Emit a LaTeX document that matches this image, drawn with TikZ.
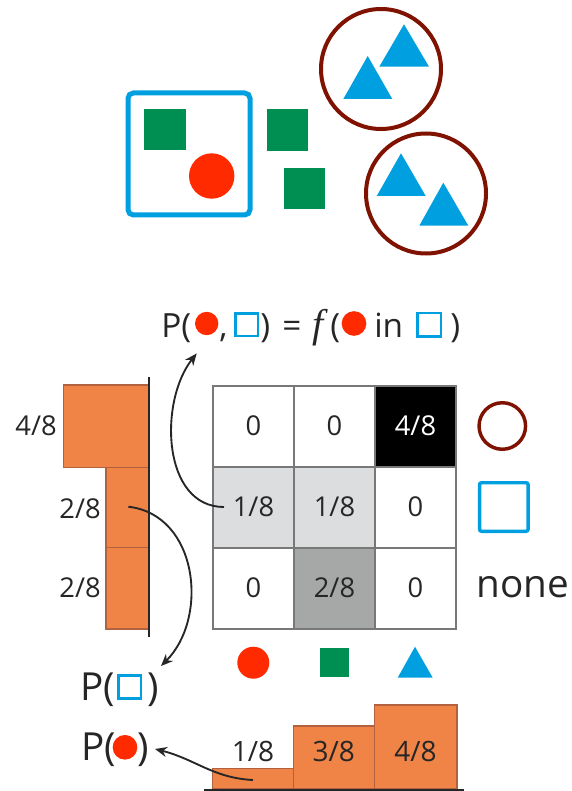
\documentclass[tikz,border=0pt]{standalone}
\usepackage{fontspec}
\setmainfont{Open Sans}
\newfontfamily\fserif{Liberation Serif}
\usetikzlibrary{arrows.meta,calc}
\definecolor{cblue}{HTML}{00A0E0}
\definecolor{cgreen}{HTML}{008F52}
\definecolor{cred}{HTML}{FF2A00}
\definecolor{cdred}{HTML}{7F1200}
\definecolor{corange}{HTML}{F08446}
\definecolor{cbrown}{HTML}{B3623F}
\definecolor{cgrid}{HTML}{787878}
\definecolor{clight}{HTML}{DCDDDF}
\definecolor{cmid}{HTML}{A6A8A7}
\definecolor{ctext}{HTML}{262626}
\begin{document}
\begin{tikzpicture}[x=0.75pt,y=-0.75pt,
 cell/.style={draw=cgrid, line width=1.5pt, minimum size=60.75pt, inner sep=0pt, font=\fontsize{20.5}{24}\selectfont, text=ctext},
 bar/.style={fill=corange, draw=cbrown, line width=1.2pt},
 lbl/.style={font=\fontsize{20.5}{24}\selectfont, text=ctext, inner sep=0pt},
 hl/.style={font=\fontsize{21}{25}\selectfont, text=ctext, inner sep=0pt},
 ft/.style={font=\fontsize{25}{30}\selectfont, text=ctext, inner sep=0pt, anchor=base west},
 ptxt/.style={font=\fontsize{29}{34}\selectfont, text=ctext, inner sep=0pt, anchor=base west},
 reddot/.style={circle, fill=cred, inner sep=0pt},
 bluesq/.style={draw=cblue, line width=1.9pt, inner sep=0pt},
 conn/.style={line width=1.4pt, draw=ctext, -{Stealth[length=9pt,width=7.5pt]}},
 tri/.style={fill=cblue},
]
\useasboundingbox (0,0) rectangle (571,791);
% top scene
\draw[cblue, line width=3.75pt, rounded corners=4pt] (128,93) rectangle (250,215);
\fill[cgreen] (144.3,109) rectangle (185.7,150.3);
\fill[cred] (211.7,176) circle[radius=22.7];
\fill[cgreen] (266.7,109) rectangle (308.3,150.7);
\fill[cgreen] (284,168.3) rectangle (325.3,209.3);
\draw[cdred, line width=3pt] (381,69) circle[radius=60];
\draw[cdred, line width=3pt] (426,193.5) circle[radius=60];
\fill[tri] (404,24.3) -- (429,66.7) -- (379.3,66.7) -- cycle;
\fill[tri] (367.7,56) -- (392.3,99) -- (343.3,99) -- cycle;
\fill[tri] (401,153.3) -- (425.7,196) -- (376.7,196) -- cycle;
\fill[tri] (443.3,182.7) -- (468.3,225.7) -- (419.3,225.7) -- cycle;
% formula
\node[ft] (fP) at (161,337) {P(};
\node[reddot, minimum size=17.5pt] (fdot1) at (206.7,323.5) {};
\node[ft] (fcomma) at (219,337) {,};
\node[bluesq, minimum size=16.9pt] (fsq1) at (246.8,324.7) {};
\node[ft] (fclose) at (260,337) {)};
\node[ft] (feq) at (282,337) {=};
\node[ft] (ff) at (312,337) {\fserif\itshape\fontsize{30}{34}\selectfont f};
\node[ft] (fopen) at (330,337) {(};
\node[reddot, minimum size=18.5pt] (fdot2) at (354,323.5) {};
\node[ft] (fin) at (374,337) {in};
\node[bluesq, minimum size=17.5pt] (fsq2) at (429.3,324.7) {};
\node[ft] (fend) at (450,337) {)};
% grid
\node[cell] (c11) at (253.5,426) {0};
\node[cell] (c12) at (334.5,426) {0};
\node[cell, fill=black, text=white] (c13) at (415.5,426) {4/8};
\node[cell, fill=clight] (c21) at (253.5,507) {1/8};
\node[cell, fill=clight] (c22) at (334.5,507) {1/8};
\node[cell] (c23) at (415.5,507) {0};
\node[cell] (c31) at (253.5,588) {0};
\node[cell, fill=cmid] (c32) at (334.5,588) {2/8};
\node[cell] (c33) at (415.5,588) {0};
% right labels
\node[circle, draw=cdred, line width=2.6pt, minimum size=34.9pt, inner sep=0pt] (lcirc) at (502.3,426) {};
\node[draw=cblue, line width=2.6pt, rounded corners=1.5pt, minimum size=36.4pt, inner sep=0pt] (lsq) at (503.8,507) {};
\node[ptxt] (lnone) at (476,597) {none};
% bottom icons
\node[reddot, minimum size=24pt] (icirc) at (253.3,662.7) {};
\node[fill=cgreen, minimum size=21.75pt, inner sep=0pt] (isq) at (334.7,662.8) {};
\fill[cblue] (415,646.7) -- (432.7,677.7) -- (397.7,677.7) -- cycle;
% left histogram
\draw[bar] (63.3,385) rectangle (149,467.3);
\draw[bar] (106,467.3) rectangle (149,547.3);
\draw[bar] (106,547.3) rectangle (149,629);
\draw[line width=1.5pt, ctext] (149,377) -- (149,637);
\node[lbl, anchor=east] (l48) at (57,426) {4/8};
\node[lbl, anchor=east] (l28a) at (101,509) {2/8};
\node[lbl, anchor=east] (l28b) at (101,588) {2/8};
% bottom histogram
\draw[bar] (212.3,768.3) rectangle (293.3,789);
\draw[bar] (293.3,726) rectangle (374.3,789);
\draw[bar] (374.3,705) rectangle (456.7,789);
\draw[line width=1.5pt, ctext] (204,790) -- (464,790);
\node[hl] (b18) at (253,751) {1/8};
\node[hl] (b38) at (333.8,751) {3/8};
\node[hl] (b48) at (415.5,751) {4/8};
% P labels
\node[ptxt] (pSq) at (80,700) {P(};
\node[bluesq, minimum size=17pt] (pSqBox) at (129.8,687) {};
\node[ptxt] (pSqEnd) at (147,700) {)};
\node[ptxt] (pDot) at (81,760) {P(};
\node[reddot, minimum size=18.5pt] (pDotC) at (125,747.3) {};
\node[ptxt] (pDotEnd) at (137,760) {)};
% connectors
\coordinate (jc) at ($(c21.west)+(12,0)$);
\coordinate (ftip) at ($(fdot1.south)+(-10,18)$);
\draw[conn] (jc) .. controls +(-62,0) and +(-38,48) .. (ftip);
\coordinate (b2c) at (128.3,506.7);
\coordinate (ptip2) at (161,666);
\draw[conn] (b2c) .. controls +(70,8) and +(48,-48) .. (ptip2);
\coordinate (b1c) at (253,780);
\coordinate (ptip3) at (155,749);
\draw[conn] (b1c) .. controls +(-40,-2) and +(40,10) .. (ptip3);
\end{tikzpicture}
\end{document}
